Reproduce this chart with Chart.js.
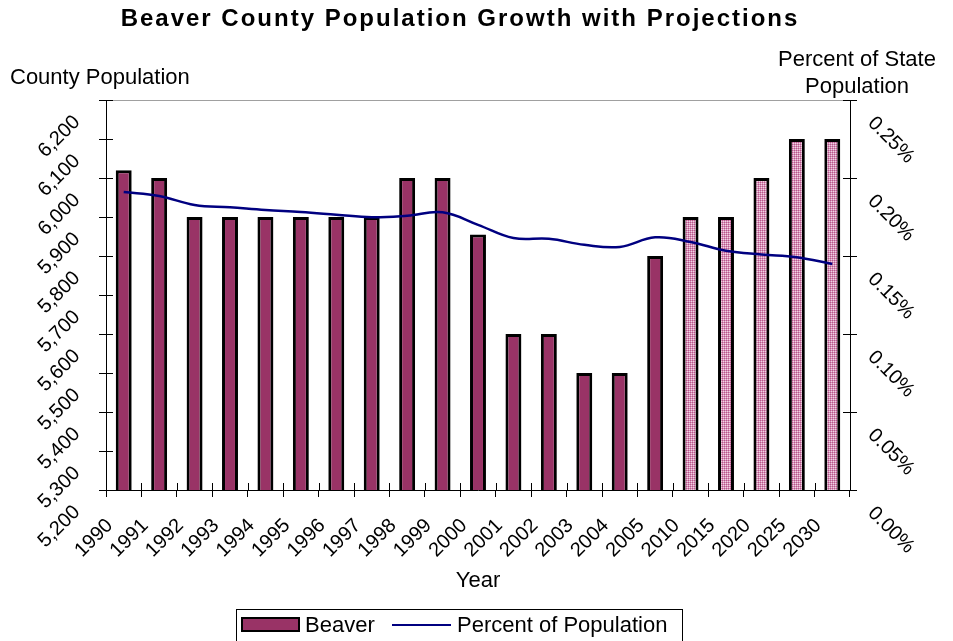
<!DOCTYPE html>
<html>
<head>
<meta charset="utf-8">
<script src="https://cdn.jsdelivr.net/npm/chart.js@4.4.1/dist/chart.umd.min.js"></script>
<style>
  html, body { margin: 0; padding: 0; background: #ffffff; }
  #wrap { width: 953px; height: 641px; }
</style>
</head>
<body>
<div id="wrap"><canvas id="c" width="953" height="641"></canvas></div>
<script>
// ---- data ----
const years = ['1990','1991','1992','1993','1994','1995','1996','1997','1998','1999','2000','2001','2002','2003','2004','2005','2010','2015','2020','2025','2030'];
const beaver = [6020, 6000, 5900, 5900, 5900, 5900, 5900, 5900, 6000, 6000, 5855, 5600, 5600, 5500, 5500, 5800, 5900, 5900, 6000, 6100, 6100];
const percentOfState = [0.191, 0.1885, 0.1827, 0.1812, 0.1795, 0.1782, 0.1765, 0.1748, 0.1758, 0.1780, 0.1700, 0.1615, 0.1610, 0.1572, 0.1558, 0.1620, 0.1590, 0.1534, 0.1510, 0.1492, 0.1449];
const firstProjectedYear = '2010';
const leftTicks = { min: 5200, max: 6200, step: 100 };
const rightTicks = { min: 0, max: 0.25, step: 0.05 };

const titleText = 'Beaver County Population Growth with Projections';
const leftTitle = 'County Population';
const rightTitle = ['Percent of State', 'Population'];
const xTitle = 'Year';
const legendLabels = ['Beaver', 'Percent of Population'];

// ---- styles ----
const FONT = '"Liberation Sans", Arial, sans-serif';
const barColor = '#993366';
const lineColor = '#000080';

function makePattern() {
  const t = document.createElement('canvas');
  t.width = 2; t.height = 2;
  const g = t.getContext('2d');
  g.fillStyle = '#f0d4e4';
  g.fillRect(0, 0, 2, 2);
  g.fillStyle = '#b8588c';
  g.fillRect(0, 0, 1, 1);
  g.fillStyle = '#d690b8';
  g.fillRect(1, 0, 1, 1);
  g.fillRect(0, 1, 1, 1);
  return g.createPattern(t, 'repeat');
}
const ctx = document.getElementById('c').getContext('2d');
const pattern = makePattern();
const projIdx = years.indexOf(firstProjectedYear);
const barFills = years.map((y, i) => i >= projIdx ? pattern : barColor);

const decor = {
  id: 'decor',
  afterDatasetsDraw(chart) {
    const c = chart.ctx;
    const a = chart.chartArea;
    c.save();
    c.strokeStyle = '#a0a0a0';
    c.lineWidth = 1;
    c.beginPath();
    c.moveTo(a.left, a.top + 0.5);
    c.lineTo(a.right, a.top + 0.5);
    c.stroke();
    c.strokeStyle = '#000000';
    const yl = chart.scales.y, yr = chart.scales.y1;
    yl.ticks.forEach((t, i) => { const p = Math.round(yl.getPixelForTick(i)) + 0.5; c.beginPath(); c.moveTo(a.left, p); c.lineTo(a.left + 7, p); c.stroke(); });
    yr.ticks.forEach((t, i) => { const p = Math.round(yr.getPixelForTick(i)) + 0.5; c.beginPath(); c.moveTo(a.right - 7, p); c.lineTo(a.right, p); c.stroke(); });
    for (let i = 0; i <= years.length; i++) {
      const p = Math.round(a.left + (a.right - a.left) * i / years.length) + 0.5;
      c.beginPath(); c.moveTo(p, a.bottom - 7); c.lineTo(p, a.bottom); c.stroke();
    }
    c.restore();
  },
  afterDraw(chart) {
    const c = chart.ctx;
    c.save();
    c.fillStyle = '#000000';
    c.font = 'bold 24px ' + FONT;
    c.textAlign = 'center';
    c.textBaseline = 'middle';
    if ('letterSpacing' in c) c.letterSpacing = '2px';
    c.fillText(titleText, 460, 19);
    if ('letterSpacing' in c) c.letterSpacing = '0px';
    c.font = '22px ' + FONT;
    c.textAlign = 'left';
    c.fillText(leftTitle, 10, 78);
    c.textAlign = 'center';
    c.fillText(rightTitle[0], 857, 60);
    c.fillText(rightTitle[1], 857, 87);
    c.fillText(xTitle, 478, 581);
    c.strokeStyle = '#000000';
    c.lineWidth = 1;
    c.strokeRect(236.5, 609.5, 446, 40);
    c.fillStyle = barColor;
    c.fillRect(241, 617, 59, 15);
    c.lineWidth = 2;
    c.strokeRect(242, 618, 57, 13);
    c.strokeStyle = lineColor;
    c.beginPath(); c.moveTo(392, 625); c.lineTo(451, 625); c.stroke();
    c.fillStyle = '#000000';
    c.textAlign = 'left';
    c.fillText(legendLabels[0], 305, 626);
    c.fillText(legendLabels[1], 457, 626);
    c.restore();
  }
};

new Chart(ctx, {
  type: 'bar',
  data: {
    labels: years,
    datasets: [
      {
        type: 'line',
        label: legendLabels[1],
        data: percentOfState,
        yAxisID: 'y1',
        borderColor: lineColor,
        borderWidth: 2.5,
        pointRadius: 0,
        tension: 0.4,
        fill: false,
        order: 0
      },
      {
        type: 'bar',
        label: legendLabels[0],
        data: beaver,
        yAxisID: 'y',
        backgroundColor: barFills,
        borderColor: '#000000',
        borderWidth: 3,
        borderSkipped: false,
        barPercentage: 0.45,
        categoryPercentage: 1.0,
        order: 1
      }
    ]
  },
  options: {
    responsive: false,
    devicePixelRatio: 1,
    animation: false,
    layout: { padding: { top: 100, left: 0, right: 0, bottom: 0 } },
    plugins: { legend: { display: false }, title: { display: false }, tooltip: { enabled: false } },
    scales: {
      x: {
        grid: { drawOnChartArea: false, tickLength: 7, color: '#000000', offset: true },
        border: { color: '#000000', width: 1 },
        ticks: {
          autoSkip: false, minRotation: 45, maxRotation: 45,
          font: { family: FONT, size: 20 }, color: '#000000',
          labelOffset: -14, padding: 17
        },
        afterFit(s) { s.height = 151; }
      },
      y: {
        position: 'left',
        min: leftTicks.min, max: leftTicks.max,
        grid: { drawOnChartArea: false, tickLength: 7, color: '#000000' },
        border: { color: '#000000', width: 1 },
        ticks: {
          stepSize: leftTicks.step,
          minRotation: 45, maxRotation: 45,
          labelOffset: 19, padding: 22,
          font: { family: FONT, size: 20 }, color: '#000000',
          callback: v => v.toLocaleString('en-US')
        },
        afterFit(s) { s.width = 106; }
      },
      y1: {
        position: 'right',
        min: rightTicks.min, max: rightTicks.max,
        grid: { drawOnChartArea: false, tickLength: 7, color: '#000000' },
        border: { color: '#000000', width: 1 },
        ticks: {
          stepSize: rightTicks.step,
          minRotation: -45, maxRotation: -45,
          labelOffset: 20, padding: 14,
          font: { family: FONT, size: 20 }, color: '#000000',
          callback: v => v.toFixed(2) + '%'
        },
        afterFit(s) { s.width = 103; }
      }
    }
  },
  plugins: [decor]
});
</script>
</body>
</html>
